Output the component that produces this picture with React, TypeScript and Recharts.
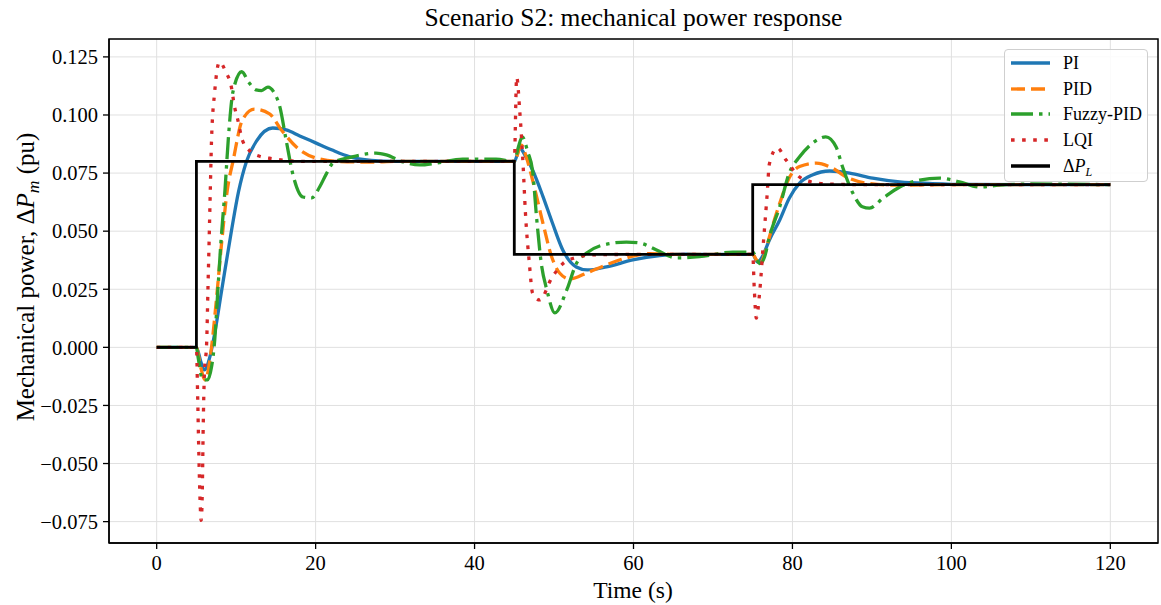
import React from 'react';
import { LineChart, Line, XAxis, YAxis, CartesianGrid, ReferenceArea } from 'recharts';

const FONT = "'Liberation Serif', 'Times New Roman', serif";

const X_TICKS = [0, 20, 40, 60, 80, 100, 120];
const Y_TICKS = [-0.075, -0.05, -0.025, 0, 0.025, 0.05, 0.075, 0.1, 0.125];
const X_DOMAIN = [-6, 126];
const Y_DOMAIN = [-0.0842, 0.1327];

const SERIES_NAMES = ['PI', 'PID', 'Fuzzy-PID', 'LQI'];

// Load step ΔP_L
const STEP_T = [0, 5, 45, 75, 120];
const STEP_V = [0, 0.08, 0.04, 0.07, 0.07];

// PI
const PI_T = [0, 5, 5.6, 6.0, 6.7, 7.3, 8.2, 9.4, 10.3, 11.3, 12.6, 14.6, 16.3, 18, 20, 22, 24.3, 27, 30, 35, 40, 45,
  45.7, 46.3, 47.3, 48.6, 49.8, 51.1, 52.8, 54.2, 56.6, 59.9, 63.3, 66.5, 70, 75,
  75.6, 76.2, 77.1, 78.4, 79.6, 80.9, 82.5, 84.7, 87.2, 90.1, 93.5, 97.6, 102, 110, 120];
const PI_V = [0, 0, -0.0067, -0.0097, -0.004, 0.006, 0.025, 0.05, 0.067, 0.08, 0.089, 0.0944, 0.0936, 0.091, 0.088, 0.085, 0.082, 0.0805, 0.08, 0.08, 0.08, 0.08,
  0.0857, 0.083, 0.0763, 0.065, 0.0535, 0.0419, 0.0346, 0.0333, 0.0346, 0.0376, 0.0395, 0.0401, 0.04, 0.04,
  0.0367, 0.039, 0.0462, 0.0548, 0.0642, 0.0707, 0.0742, 0.0759, 0.075, 0.0728, 0.0712, 0.0705, 0.0701, 0.07, 0.07];

// PID
const PID_T = [0, 5, 5.5, 6.1, 6.9, 7.5, 8.2, 8.9, 9.6, 10.8, 12.3, 14.2, 15.7, 18, 20, 23, 27, 30, 40, 45,
  45.9, 46.5, 47.3, 48.6, 49.7, 50.7, 52, 54.1, 56.6, 59.1, 62, 66, 75,
  75.4, 75.9, 76.5, 77.1, 78.4, 79.6, 80.9, 83, 85, 86.8, 89.3, 93, 100, 120];
const PID_V = [0, 0, -0.008, -0.014, 0.0, 0.02, 0.046, 0.068, 0.08, 0.098, 0.1025, 0.1005, 0.0935, 0.085, 0.0815, 0.08, 0.0797, 0.08, 0.08, 0.08,
  0.087, 0.082, 0.072, 0.0535, 0.039, 0.032, 0.0294, 0.032, 0.0355, 0.0385, 0.0403, 0.04, 0.04,
  0.038, 0.036, 0.04, 0.0475, 0.062, 0.073, 0.0778, 0.0793, 0.0772, 0.0733, 0.0707, 0.0698, 0.07, 0.07];

// Fuzzy-PID
const FZ_T = [0, 5, 5.2, 5.8, 6.4, 6.9, 7.3, 7.7, 8.1, 8.6, 9.0, 9.6, 10.7, 11.6, 12.5, 13.2, 14.0, 14.8, 15.5, 16.3, 17.1, 18.4, 19.5, 20.5, 21.4, 22.2, 24.6, 27.6, 28.9, 31, 33.1, 35.2, 38.5, 42.7, 45,
  45.5, 46.0, 46.7, 47.3, 47.8, 48.4, 49.1, 50.1, 51.6, 52.8, 54.1, 56.1, 59.1, 60.8, 62.9, 65.4, 68.3, 72.5, 75,
  75.5, 75.9, 76.5, 77.1, 78.4, 79.6, 80.9, 82.5, 84.2, 85.5, 86.3, 87.6, 88.8, 89.7, 91.4, 93.5, 96, 98.5, 101, 103.5, 106, 110, 120];
const FZ_V = [0, 0, -0.004, -0.014, -0.014, -0.0085, 0.003, 0.0247, 0.046, 0.068, 0.089, 0.11, 0.1186, 0.114, 0.1108, 0.1105, 0.112, 0.1095, 0.1035, 0.089, 0.075, 0.0647, 0.0643, 0.069, 0.075, 0.0794, 0.082, 0.0836, 0.0828, 0.0798, 0.0785, 0.0793, 0.081, 0.081, 0.08,
  0.086, 0.0906, 0.084, 0.076, 0.056, 0.036, 0.0247, 0.0148, 0.0247, 0.036, 0.0406, 0.044, 0.0453, 0.0449, 0.0419, 0.0385, 0.039, 0.041, 0.041,
  0.038, 0.036, 0.039, 0.0475, 0.0605, 0.075, 0.082, 0.0878, 0.0906, 0.0862, 0.0777, 0.0664, 0.0605, 0.0599, 0.0642, 0.069, 0.072, 0.0728, 0.0712, 0.069, 0.0698, 0.0703, 0.07];

// LQI
const LQI_T = [0, 5, 5.15, 5.3, 5.45, 5.6, 5.75, 5.85, 6.0, 6.3, 6.45, 6.6, 6.75, 6.9, 7.3, 7.9, 8.7, 9.4, 9.8, 10.2, 10.8, 11.9, 13.2, 14.6, 17, 20, 30, 45,
  45.3, 45.7, 46.1, 46.4, 46.9, 47.3, 48.2, 49.7, 51.1, 52.6, 55, 60, 75,
  75.2, 75.45, 75.9, 76.3, 76.8, 77.1, 78.1, 79.2, 80.9, 82.5, 85, 90, 120];
const LQI_V = [0, 0, -0.02, -0.045, -0.065, -0.0745, -0.06, -0.035, -0.012, 0.003, 0.025, 0.046, 0.068, 0.089, 0.11, 0.1228, 0.1185, 0.112, 0.1035, 0.098, 0.089, 0.084, 0.082, 0.0812, 0.0802, 0.08, 0.08, 0.08,
  0.1163, 0.101, 0.079, 0.058, 0.036, 0.0233, 0.0204, 0.0298, 0.036, 0.0385, 0.0398, 0.04, 0.04,
  0.025, 0.0126, 0.0247, 0.043, 0.065, 0.079, 0.0858, 0.0806, 0.0733, 0.0711, 0.0702, 0.07, 0.07];

const zip = (ts: number[], vs: number[]) => ts.map((t, i) => ({ t, v: vs[i] }));

const piData = zip(PI_T, PI_V);
const pidData = zip(PID_T, PID_V);
const fzData = zip(FZ_T, FZ_V);
const lqiData = zip(LQI_T, LQI_V);
const stepData = zip(STEP_T, STEP_V);

const COLORS = ['#1f77b4', '#ff7f0e', '#2ca02c', '#d62728', '#000000'];
const DASHES = [undefined, '14 6', '22 6 3.5 6', '3.6 7.5', undefined];

const fmtY = (v: number) => (v < 0 ? '\u2212' : '') + Math.abs(v).toFixed(3);

const YLabel = () => (
  <text x={34} y={277} transform="rotate(-90 34 277)" textAnchor="middle" fontSize={25} fontFamily={FONT} fill="#000">
    Mechanical power, Δ<tspan fontStyle="italic">P</tspan>
    <tspan fontStyle="italic" fontSize={17.5} dy={5}>m</tspan>
    <tspan dy={-5}> (pu)</tspan>
  </text>
);

const XLabel = () => (
  <text x={633} y={598} textAnchor="middle" fontSize={23.5} fontFamily={FONT} fill="#000">Time (s)</text>
);

const legendItems = [
  { label: 'PI', color: COLORS[0], dash: DASHES[0] },
  { label: 'PID', color: COLORS[1], dash: DASHES[1] },
  { label: 'Fuzzy-PID', color: COLORS[2], dash: DASHES[2] },
  { label: 'LQI', color: COLORS[3], dash: DASHES[3] },
  { label: 'DPL', color: COLORS[4], dash: DASHES[4] },
];

export default function App() {
  return (
    <div style={{ position: 'absolute', left: 0, top: 0, width: 1161, height: 605, background: '#fff', fontFamily: FONT }}>
      <LineChart width={1161} height={605} margin={{ top: 39, right: 3, bottom: 0, left: 0 }}>
        <CartesianGrid stroke="#e0e0e0" strokeWidth={1} />
        <XAxis
          type="number"
          dataKey="t"
          domain={X_DOMAIN}
          ticks={X_TICKS}
          allowDataOverflow
          height={62}
          tickSize={6}
          tickMargin={6}
          stroke="#000"
          strokeWidth={1.3}
          tick={{ fill: '#000', fontSize: 20.5, fontFamily: FONT }}
          label={XLabel}
        />
        <YAxis
          type="number"
          domain={Y_DOMAIN}
          ticks={Y_TICKS}
          allowDataOverflow
          width={109}
          tickSize={6}
          tickMargin={5}
          stroke="#000"
          strokeWidth={1.3}
          tickFormatter={fmtY}
          tick={{ fill: '#000', fontSize: 20.5, fontFamily: FONT }}
          label={YLabel}
        />
        <Line data={piData} dataKey="v" name={SERIES_NAMES[0]} type="monotone" stroke={COLORS[0]} strokeWidth={3.3} dot={false} isAnimationActive={false} />
        <Line data={pidData} dataKey="v" name={SERIES_NAMES[1]} type="monotone" stroke={COLORS[1]} strokeWidth={3.3} strokeDasharray={DASHES[1]} dot={false} isAnimationActive={false} />
        <Line data={fzData} dataKey="v" name={SERIES_NAMES[2]} type="monotone" stroke={COLORS[2]} strokeWidth={3.3} strokeDasharray={DASHES[2]} dot={false} isAnimationActive={false} />
        <Line data={lqiData} dataKey="v" name={SERIES_NAMES[3]} type="monotone" stroke={COLORS[3]} strokeWidth={3.3} strokeDasharray={DASHES[3]} dot={false} isAnimationActive={false} />
        <Line data={stepData} dataKey="v" name="ΔP_L" type="stepAfter" stroke={COLORS[4]} strokeWidth={2.8} dot={false} isAnimationActive={false} />
        <ReferenceArea x1={X_DOMAIN[0]} x2={X_DOMAIN[1]} y1={Y_DOMAIN[0]} y2={Y_DOMAIN[1]} fill="none" stroke="#000" strokeWidth={1.5} ifOverflow="visible" />
      </LineChart>

      <div style={{ position: 'absolute', left: 109, width: 1049, top: 5, textAlign: 'center', fontSize: 25.5, lineHeight: '25px', color: '#000' }}>
        Scenario S2: mechanical power response
      </div>

      <div style={{ position: 'absolute', left: 1004, top: 49, width: 144, height: 133, boxSizing: 'border-box', border: '1px solid #cfcfcf', borderRadius: 4, background: 'rgba(255,255,255,0.85)' }}>
        {legendItems.map((it, i) => (
          <div key={i} style={{ position: 'absolute', left: 0, top: 13 + i * 25.7 - 12, height: 24, width: 144 }}>
            <svg width={50} height={24} style={{ position: 'absolute', left: 0, top: 0 }}>
              <line x1={6} x2={45} y1={12} y2={12} stroke={it.color} strokeWidth={3.3} strokeDasharray={it.dash} />
            </svg>
            <span style={{ position: 'absolute', left: 58, top: 0, fontSize: 18, lineHeight: '24px', whiteSpace: 'nowrap', color: '#000' }}>
              {it.label === 'DPL' ? (
                <>Δ<i>P</i><sub style={{ fontSize: 12, fontStyle: 'italic', verticalAlign: -4 }}>L</sub></>
              ) : it.label}
            </span>
          </div>
        ))}
      </div>
    </div>
  );
}
